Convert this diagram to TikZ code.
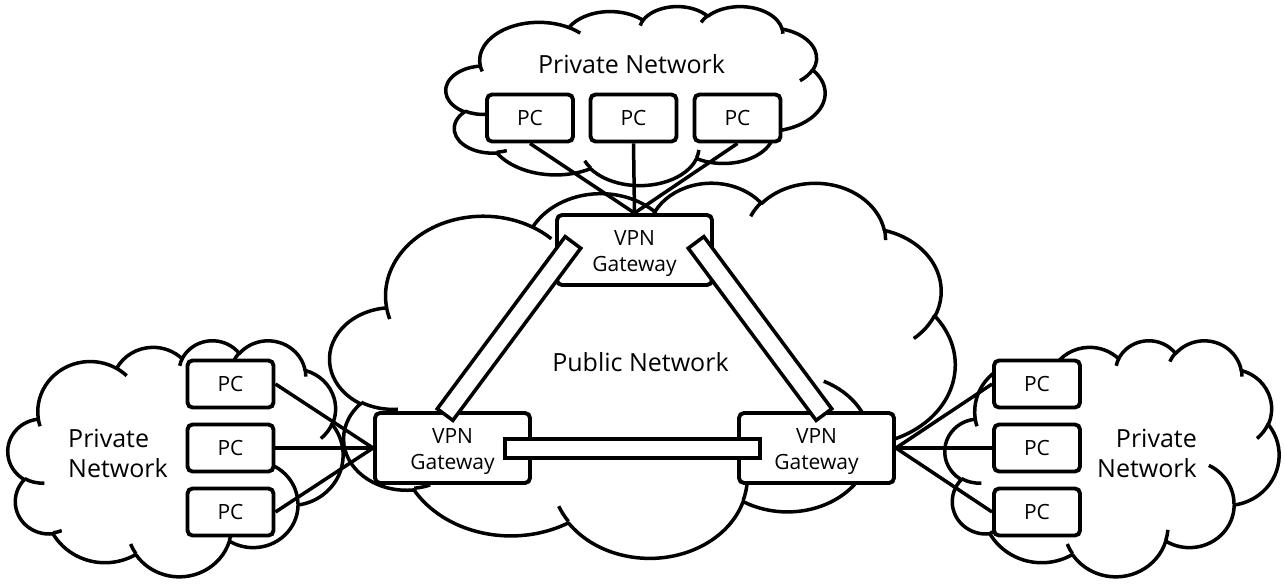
\documentclass[tikz,border=0pt]{standalone}
\usepackage{fontspec}
\setmainfont{Open Sans}
\usetikzlibrary{calc}
% OOXML-style arcTo: #1 wR, #2 hR (units of 1000), #3 start angle, #4 sweep (visual degrees)
\newcommand\ooarc[4]{%
  \pgfextra{%
    \pgfmathsetmacro\ooS{#3}%
    \pgfmathsetmacro\ooE{#3+#4}%
    \pgfmathsetmacro\ooTs{atan2(#1*sin(\ooS),#2*cos(\ooS))}%
    \pgfmathsetmacro\ooTs{\ooTs+360*round((\ooS-\ooTs)/360)}%
    \pgfmathsetmacro\ooTe{atan2(#1*sin(\ooE),#2*cos(\ooE))}%
    \pgfmathsetmacro\ooTe{\ooTe+360*round((\ooE-\ooTe)/360)}%
    \global\let\ooTs\ooTs \global\let\ooTe\ooTe}%
  arc[x radius=#1, y radius=#2, start angle=\ooTs, end angle=\ooTe]}
% cloud outline in box: x0 y0 W H (pixels, y downward)
\newcommand\pcloud[4]{%
  \begin{scope}[shift={(#1,#2)}, x=1pt, y=1pt, xscale=#3/43.2, yscale=-#4/43.2]
    \draw[cloudline] (3.900,14.370)
      \ooarc{6.753}{9.190}{-190.48748}{123.78053}
      \ooarc{5.333}{7.267}{-144.10238}{89.94523}
      \ooarc{4.365}{5.945}{-145.80792}{99.72302}
      \ooarc{4.857}{6.595}{-130.98607}{117.24173}
      \ooarc{5.333}{7.273}{-78.70888}{109.02692}
      \ooarc{6.775}{9.220}{-46.26725}{130.269}
      \ooarc{5.785}{7.867}{0.62502}{114.03333}
      \ooarc{6.752}{9.215}{22.4516}{115.17255}
      \ooarc{7.720}{10.543}{66.24263}{75.71102}
      \ooarc{4.360}{5.918}{-274.94208}{146.73557}
      \ooarc{4.345}{5.945}{-246.8285}{152.51885}
      -- cycle;
    \draw[cloudline]
      (4.693,26.177) \ooarc{4.345}{5.945}{86.742}{26.4295}
      (6.928,34.899) \ooarc{4.360}{5.918}{73.61047}{11.44747}
      (16.478,39.090) \ooarc{6.752}{9.215}{137.62415}{14.0811}
      (28.827,34.751) \ooarc{6.752}{9.215}{6.45327}{15.99835}
      (34.129,22.954) \ooarc{5.785}{7.867}{-70.29235}{70.91737}
      (41.798,15.354) \ooarc{5.333}{7.273}{30.31803}{27.7515}
      (38.324,5.426) \ooarc{4.857}{6.595}{-13.74433}{14.8589}
      (29.078,3.952) \ooarc{4.857}{6.595}{-149.18145}{18.19537}
      (22.141,4.720) \ooarc{4.365}{5.945}{-163.49427}{17.68635}
      (14.000,5.192) \ooarc{6.753}{9.190}{-66.70695}{12.31935}
      (4.127,15.789) \ooarc{6.753}{9.190}{157.65435}{11.85817};
  \end{scope}}
\begin{document}
\begin{tikzpicture}[x=1pt,y=-1pt,
  cloudline/.style={line width=3.5pt, line join=round},
  pcbox/.style={draw, line width=3.9pt, rounded corners=5pt, fill=white,
    minimum width=86pt, minimum height=47pt, inner sep=0pt,
    font=\fontsize{21}{26}\selectfont},
  gwbox/.style={draw, line width=3.9pt, rounded corners=5pt, fill=white,
    minimum width=155pt, minimum height=70pt, inner sep=0pt},
  gwtext/.style={font=\fontsize{21}{26}\selectfont, align=center, inner sep=0pt},
  link/.style={line width=3.5pt},
  bigtext/.style={font=\fontsize{25}{30}\selectfont, inner sep=0pt},
  tunnelouter/.style={line width=23pt},
  tunnelinner/.style={white, line width=15.6pt, shorten <=3.7pt, shorten >=3.7pt},
]
\fill[white] (0,0) rectangle (1284,584);
\useasboundingbox (0,0) rectangle (1284,584);

% clouds
\pcloud{330}{182}{625}{375}
\pcloud{446}{6}{379}{179}
\pcloud{8}{340}{335}{236}
\pcloud{945}{340}{334}{236}

% labels
\node[bigtext, anchor=base] (toplabel) at (631.5,73) {Private Network};
\node[bigtext, anchor=base] (publabel) at (640.5,371.5) {Public Network};
\node[bigtext, align=left, anchor=west] (leftlabel) at (68,453.5) {Private\\Network};
\node[bigtext, align=right, anchor=east] (rightlabel) at (1197,453.5) {Private\\Network};

% PCs
\node[pcbox] (t1) at (530,118) {PC};
\node[pcbox] (t2) at (633.5,118) {PC};
\node[pcbox] (t3) at (737.5,118) {PC};
\node[pcbox] (l1) at (230.5,384) {PC};
\node[pcbox] (l2) at (230.5,448) {PC};
\node[pcbox] (l3) at (230.5,512) {PC};
\node[pcbox] (r1) at (1037,384) {PC};
\node[pcbox] (r2) at (1037,448) {PC};
\node[pcbox] (r3) at (1037,512) {PC};

% gateways
\node[gwbox, label={[gwtext, yshift=-3.7pt]center:VPN\\Gateway}] (gwT) at (634.5,250) {};
\node[gwbox, label={[gwtext, yshift=-3.7pt]center:VPN\\Gateway}] (gwL) at (452.5,448) {};
\node[gwbox, label={[gwtext, yshift=-3.7pt]center:VPN\\Gateway}] (gwR) at (816.5,448) {};

% links
\draw[link] (t1.south) -- (gwT.north);
\draw[link] (t2.south) -- (gwT.north);
\draw[link] (t3.south) -- (gwT.north);
\draw[link] (l1.east) -- (gwL.west);
\draw[link] (l2.east) -- (gwL.west);
\draw[link] (l3.east) -- (gwL.west);
\draw[link] (gwR.east) -- (r1.west);
\draw[link] (gwR.east) -- (r2.west);
\draw[link] (gwR.east) -- (r3.west);

% tunnels
\coordinate (tlA) at ([shift={(-60.5,-9)}]gwT.center);
\coordinate (tlB) at ([shift={(-8.5,-32)}]gwL.center);
\coordinate (trA) at ([shift={(60.5,-9)}]gwT.center);
\coordinate (trB) at ([shift={(8.5,-32)}]gwR.center);
\coordinate (hA) at ([shift={(50.5,0.5)}]gwL.center);
\coordinate (hB) at ([shift={(-54.5,0.5)}]gwR.center);
\draw[tunnelouter] (tlA) -- (tlB);
\draw[tunnelinner] (tlA) -- (tlB);
\draw[tunnelouter] (trA) -- (trB);
\draw[tunnelinner] (trA) -- (trB);
\draw[tunnelouter] (hA) -- (hB);
\draw[tunnelinner] (hA) -- (hB);
\end{tikzpicture}
\end{document}
